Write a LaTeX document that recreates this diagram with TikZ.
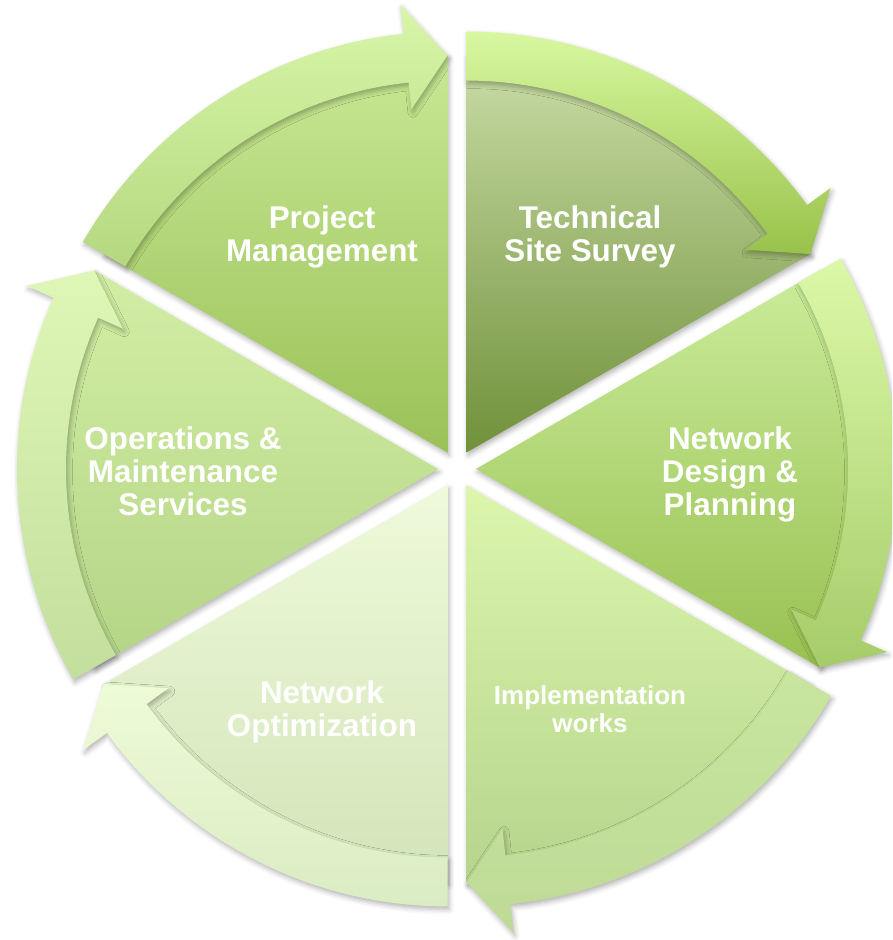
\documentclass[tikz,border=0pt]{standalone}
\usepackage{fontspec}
\setmainfont{Liberation Sans}
\usetikzlibrary{calc,shadows.blur}
% sector colours (T = top, B = bottom) and arrow colours (U = top, D = bottom)
\definecolor{pmT}{HTML}{C8E794}\definecolor{pmB}{HTML}{9AC258}
\definecolor{pmU}{HTML}{D8F6A8}\definecolor{pmD}{HTML}{B4D880}
\definecolor{tsT}{HTML}{C9DCA6}\definecolor{tsB}{HTML}{70913A}
\definecolor{tsU}{HTML}{D8F8A0}\definecolor{tsD}{HTML}{98C24A}
\definecolor{ndT}{HTML}{CAEC9A}\definecolor{ndB}{HTML}{98C152}
\definecolor{ndU}{HTML}{DCF8A8}\definecolor{ndD}{HTML}{A6CC6A}
\definecolor{iwT}{HTML}{DCF7AC}\definecolor{iwB}{HTML}{B6D48C}
\definecolor{iwU}{HTML}{C8E6A0}\definecolor{iwD}{HTML}{BEDA96}
\definecolor{noT}{HTML}{EEFADA}\definecolor{noB}{HTML}{D2E4B8}
\definecolor{noU}{HTML}{EEFBD8}\definecolor{noD}{HTML}{DAECC2}
\definecolor{omT}{HTML}{D2EEA4}\definecolor{omB}{HTML}{B4D486}
\definecolor{omU}{HTML}{DEF7B6}\definecolor{omD}{HTML}{C4DE9E}
\begin{document}
\begin{tikzpicture}[x=1pt,y=1pt,
  lbl/.style={text=white,font=\fontsize{31.4}{33}\selectfont\bfseries,align=center},
  lblsmall/.style={text=white,font=\fontsize{26}{28}\selectfont\bfseries,align=center},
  softshadow/.style={blur shadow={shadow xshift=1.5pt,shadow yshift=-3pt,shadow blur radius=5pt,shadow opacity=30}}]
\clip (0,0) rectangle (892,940);
\coordinate (C) at (457,471);
% sectors
\foreach \t/\n in {120/pm,60/ts,0/nd,-60/iw,-120/no,180/om}{
  \coordinate (V) at ($(C)+(\t:19pt)$);
  \path[softshadow, top color=\n T, bottom color=\n B]
    (V) -- ($(V)+(\t-30:397pt)$)
    arc[start angle=\t-30, end angle=\t+30, radius=397pt] -- cycle;
}
% curved arrows on the rim
\foreach \t/\n in {120/pm,60/ts,0/nd,-60/iw,-120/no,180/om}{
  \coordinate (V) at ($(C)+(\t:19pt)$);
  \path[softshadow, top color=\n U, bottom color=\n D]
    ($(V)+(\t+30:421pt)$)
    arc[start angle=\t+30, end angle=\t-24, radius=421pt]
    -- ($(V)+(\t-24:450pt)$)
    -- ($(V)+(\t-30:397pt)$)
    -- ($(V)+(\t-24:345pt)$)
    -- ($(V)+(\t-24:372pt)$)
    arc[start angle=\t-24, end angle=\t+30, radius=372pt] -- cycle;
}
% labels
\node[lbl] (pm) at (322,703) {Project\\Management};
\node[lbl] (ts) at (590,703) {Technical\\Site Survey};
\node[lbl] (nd) at (730,466) {Network\\Design \&\\Planning};
\node[lblsmall] (iw) at (590,231) {Implementation\\works};
\node[lbl] (no) at (322,228) {Network\\Optimization};
\node[lbl] (om) at (183,469) {Operations \&\\Maintenance\\Services};
\end{tikzpicture}
\end{document}
